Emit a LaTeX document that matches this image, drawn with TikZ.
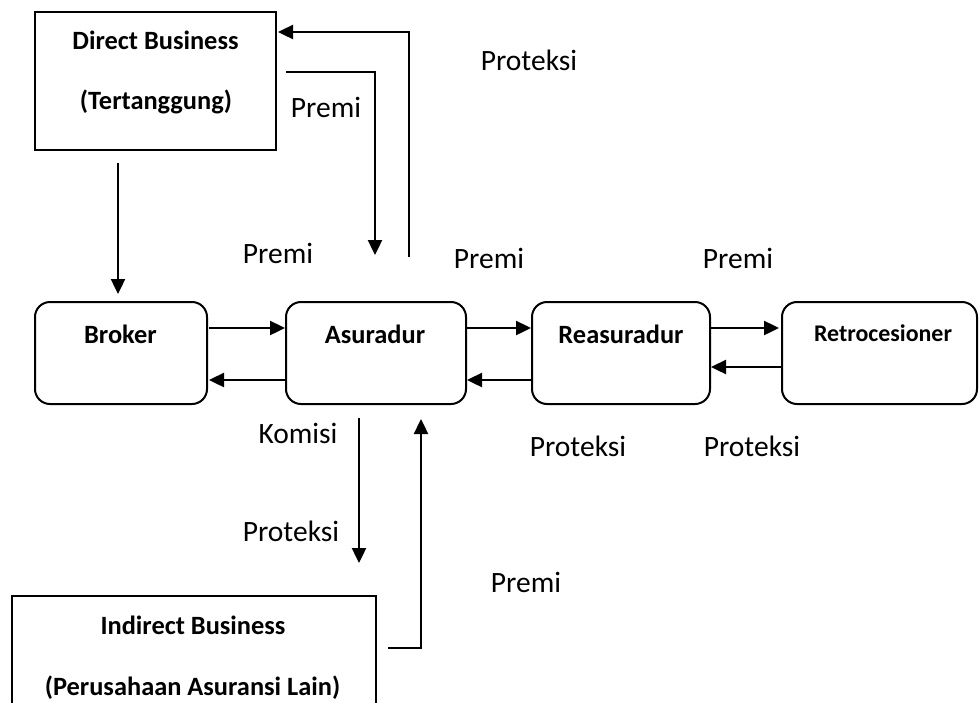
\documentclass[tikz,border=0pt]{standalone}
\usepackage{fontspec}
\setmainfont{Carlito}
\usetikzlibrary{arrows.meta}

\tikzset{
  flow/.style={line width=2.4pt, -{Triangle[length=15pt,width=14pt]}},
  plainbox/.style={draw, line width=2pt, inner sep=0pt},
  roundbox/.style={draw, line width=2pt, rounded corners=15pt, inner sep=0pt, minimum height=102pt},
  lbl/.style={font=\fontsize{29.5}{32}\selectfont, inner sep=0pt},
  title/.style={font=\fontsize{26.4}{30}\selectfont\bfseries, inner sep=0pt},
}

\begin{document}
\begin{tikzpicture}[x=1pt,y=1pt]
\useasboundingbox (0,0) rectangle (980,-702);

% boxes
\node[plainbox, minimum width=241pt, minimum height=138pt] (direct) at (155.5,-81) {};
\node[roundbox, minimum width=172pt] (broker) at (121,-353) {};
\node[roundbox, minimum width=180pt] (asur)   at (376,-353) {};
\node[roundbox, minimum width=178pt] (reas)   at (621,-353) {};
\node[roundbox, minimum width=195pt] (retro)  at (879.5,-353) {};
\node[plainbox, minimum width=364pt, minimum height=140pt] (indirect) at (194,-666) {};

% box titles
\node[title] (t1) at (155.5,-40) {Direct Business};
\node[title] (t2) at (156,-102) {(Tertanggung)};
\node[title] (t3) at (120.5,-334) {Broker};
\node[title] (t4) at (375,-334) {Asuradur};
\node[title] (t5) at (621,-334) {Reasuradur};
\node[title, font=\fontsize{23.9}{27}\selectfont\bfseries] (t6) at (883,-333) {Retrocesioner};
\node[title] (t7) at (193,-625) {Indirect Business};
\node[title] (t8) at (192.5,-687.5) {(Perusahaan Asuransi Lain)};

% flow labels
\node[lbl] (l1)  at (529,-60)  {Proteksi};
\node[lbl] (l2)  at (326,-107) {Premi};
\node[lbl] (l3)  at (278,-253) {Premi};
\node[lbl] (l4)  at (489,-258) {Premi};
\node[lbl] (l5)  at (738,-258) {Premi};
\node[lbl] (l6)  at (298,-433) {Komisi};
\node[lbl] (l7)  at (578,-446) {Proteksi};
\node[lbl] (l8)  at (752,-446) {Proteksi};
\node[lbl] (l9)  at (291,-531) {Proteksi};
\node[lbl] (l10) at (526,-582) {Premi};

% free ends of the arrows
\coordinate (dstart) at ([xshift=-37.5pt,yshift=-12pt]direct.south);
\coordinate (ptop)   at ([xshift=33pt,yshift=44pt]asur.north);
\coordinate (pend)   at ([xshift=-17pt,yshift=-158pt]asur.south);

% connectors
\draw[flow] (dstart) -- ([xshift=-3pt,yshift=7pt]broker.north);
\draw[flow] (ptop) |- ([xshift=1pt,yshift=49pt]direct.east);
\draw[flow] ([xshift=9pt,yshift=9pt]direct.east) -| ([xshift=-1pt,yshift=46pt]asur.north);

\draw[flow] ([xshift=1pt,yshift=25pt]broker.east) -- ([yshift=25pt]asur.west);
\draw[flow] ([yshift=-27pt]asur.west) -- ([xshift=1pt,yshift=-27pt]broker.east);
\draw[flow] ([yshift=25pt]asur.east) -- ([yshift=25pt]reas.west);
\draw[flow] ([yshift=-27pt]reas.west) -- ([yshift=-27pt]asur.east);
\draw[flow] ([yshift=25pt]reas.east) -- ([xshift=-2pt,yshift=25pt]retro.west);
\draw[flow] ([yshift=-14pt]retro.west) -- ([yshift=-14pt]reas.east);

\draw[flow] ([xshift=-17pt,yshift=-13pt]asur.south) -- (pend);
\draw[flow] ([xshift=11pt,yshift=18pt]indirect.east) -| ([xshift=45pt,yshift=-14pt]asur.south);
\end{tikzpicture}
\end{document}
